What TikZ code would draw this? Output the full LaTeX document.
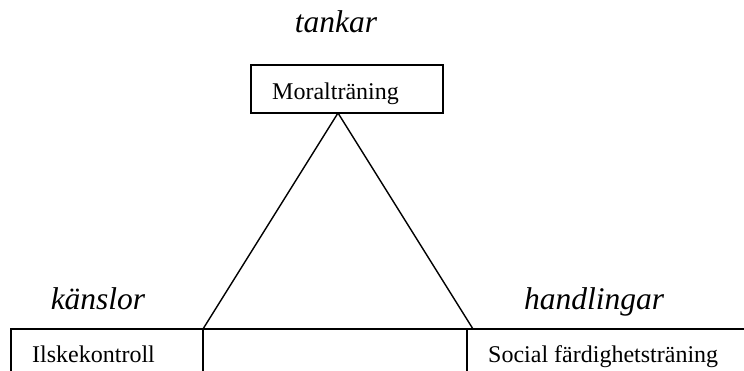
\documentclass[tikz,border=0pt]{standalone}
\usepackage{fontspec}
\setmainfont{Liberation Serif}
\begin{document}
\begin{tikzpicture}[x=1pt,y=-1pt,
  line/.style={line width=1.4pt,black},
  body/.style={inner sep=0pt,font=\fontsize{24}{28}\selectfont},
  head/.style={inner sep=0pt,font=\fontsize{31.5}{36}\selectfont\itshape},
  topbox/.style={draw,line width=1.4pt,minimum width=192pt,minimum height=48pt,inner sep=0pt}]
\useasboundingbox (0,0) rectangle (744,371);
% top
\node[head,anchor=base] (tankar) at (336,33) {tankar};
\node[topbox] (moral) at (347,89) {};
\node[body,anchor=base west] (moraltext) at (272,100) {Moralträning};
% bottom strip
\coordinate (apex) at (338,113);
\coordinate (bl) at (203,329);
\coordinate (br) at (473,329);
\coordinate (stripL) at (11,329);
\coordinate (stripR) at (745,329);
\coordinate (d1) at (203,329);
\coordinate (d2) at (467,329);
\draw[line] (stripL |- 0,372) -- (stripL) -- (stripR);
\draw[line] (d1) -- (d1 |- 0,372);
\draw[line] (d2) -- (d2 |- 0,372);
\draw[line] (apex) -- (bl);
\draw[line] (apex) -- (br);
% labels
\node[head,anchor=base] (kanslor) at (98,309) {känslor};
\node[head,anchor=base] (handlingar) at (594,309) {handlingar};
\node[body,anchor=base west] (ilske) at (32,362) {Ilskekontroll};
\node[body,anchor=base west] (social) at (488,362) {Social färdighetsträning};
\end{tikzpicture}
\end{document}
